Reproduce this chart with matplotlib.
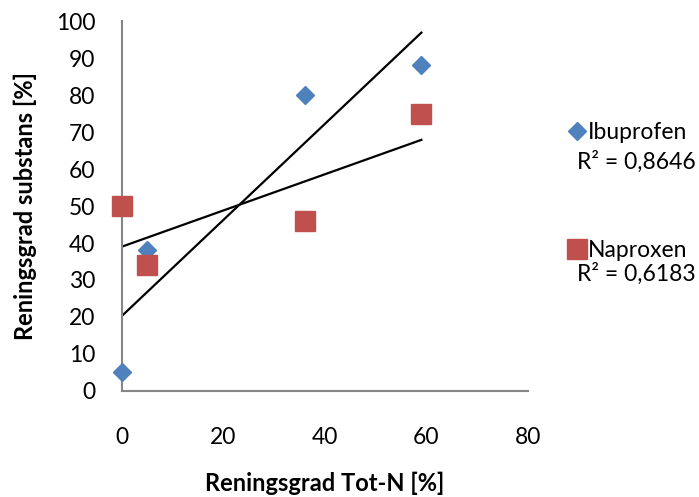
import numpy as np
import matplotlib
matplotlib.use("Agg")
import matplotlib.pyplot as plt

# data
tot_n = [0, 5, 36, 59]
ibuprofen = [5, 38, 80, 88]
naproxen = [50, 34, 46, 75]
names = ["Ibuprofen", "Naproxen"]
r2_labels = ["R² = 0,8646", "R² = 0,6183"]

plt.rcParams['font.family'] = ['Lato', 'DejaVu Sans']

fig = plt.figure(figsize=(6.99, 4.97), dpi=100)
ax = fig.add_axes([0.1745, 0.2133, 0.5808, 0.7444])

x = np.array(tot_n)
ax.plot(tot_n, ibuprofen, 'D', color='#4F81BD', ms=9, mec='#4F81BD', label=names[0], zorder=3, clip_on=False)
ax.plot(tot_n, naproxen, 's', color='#C0504D', ms=14, mec='#C0504D', label=names[1], zorder=3, clip_on=False)

# linear trend lines
for y in (ibuprofen, naproxen):
    k, m = np.polyfit(x, y, 1)
    ax.plot([x.min(), x.max()], [k * x.min() + m, k * x.max() + m], color='black', lw=1.6, zorder=2)

ax.set_xlim(0, 80)
ax.set_ylim(0, 100)
ax.set_xticks(range(0, 81, 20))
ax.set_yticks(range(0, 101, 10))
for s in ('top', 'right'):
    ax.spines[s].set_visible(False)
for s in ('left', 'bottom'):
    ax.spines[s].set_color('#868686')
    ax.spines[s].set_linewidth(1.5)
ax.tick_params(axis='y', length=0, pad=19, labelsize=16.5)
ax.tick_params(axis='x', length=0, pad=26, labelsize=16.5)
ax.set_xlabel("Reningsgrad Tot-N [%]", fontsize=17, fontweight='bold', labelpad=17)
ax.set_ylabel("Reningsgrad substans [%]", fontsize=17, fontweight='bold', labelpad=14)

leg = ax.legend(loc='upper left', bbox_to_anchor=(0.797, 0.777), bbox_transform=fig.transFigure,
                frameon=False, fontsize=16.5, handlelength=0.7, handletextpad=0.15,
                labelspacing=4.2, borderpad=0)
fig.text(696 / 699, 1 - 162 / 497, r2_labels[0], ha='right', va='center', fontsize=16.5)
fig.text(696 / 699, 1 - 274 / 497, r2_labels[1], ha='right', va='center', fontsize=16.5)

fig.savefig("out.png", dpi=100)
